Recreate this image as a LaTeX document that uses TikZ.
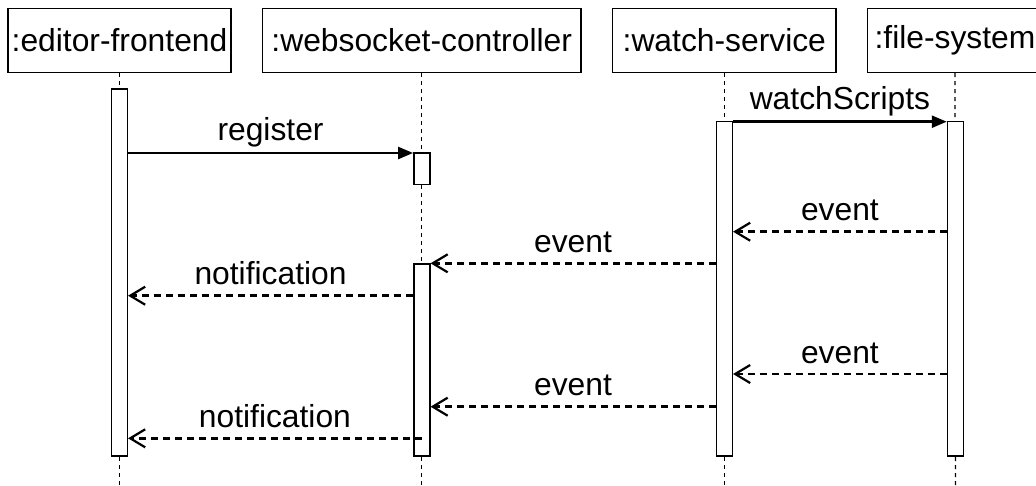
\documentclass[tikz,border=0pt]{standalone}
\usepackage{fontspec}
\setmainfont{Liberation Sans}
\usetikzlibrary{arrows.meta}
\begin{document}
\begin{tikzpicture}[x=1pt,y=-1pt,
  head/.style={draw, line width=1.5pt, minimum height=64pt, inner sep=0pt, font=\fontsize{31.8}{36}\selectfont},
  act/.style={draw, line width=1.5pt, fill=white, minimum width=16pt, inner sep=0pt, anchor=north},
  life/.style={line width=1.3pt, dash pattern=on 4pt off 4pt},
  call/.style={line width=2.5pt, -{Triangle[length=15pt,width=12pt]}},
  ret/.style={line width=2.5pt, dash pattern=on 7pt off 5pt, -{Straight Barb[length=15pt,width=18pt,line width=2.2pt]}},
  lbl/.style={font=\fontsize{31.8}{36}\selectfont, anchor=base, inner sep=0pt}
]
\useasboundingbox (0,0) rectangle (1036,485);
\clip (0,0) rectangle (1036,485);
% heads
\node[head, minimum width=223pt] (ef) at (119.5,40.3) {:editor-frontend};
\node[head, minimum width=318.7pt] (wc) at (421.7,40.3) {:websocket-controller};
\node[head, minimum width=223.3pt] (ws) at (724.3,40.3) {:watch-service};
\node[head, minimum width=174.6pt] (fs) at (955,40.3) {:file-system};
% lifeline ends
\coordinate (efe) at (119.5,485);
\coordinate (wce) at (421.7,485);
\coordinate (wse) at (724.3,485);
\coordinate (fse) at (955.5,485);
\draw[life] (ef.south) -- (efe);
\draw[life] (wc.south) -- (wce);
\draw[life] (ws.south) -- (wse);
\draw[life] (fs.south) -- (fse);
% activations
\node[act, minimum height=367pt] (efa) at (119.3,88.3) {};
\node[act, minimum height=31.7pt] (wca1) at (421.8,152) {};
\node[act, minimum height=192pt] (wca2) at (421.8,263.3) {};
\node[act, minimum height=334.6pt] (wsa) at (724.3,120.7) {};
\node[act, minimum height=334.6pt] (fsa) at (955.5,120.7) {};
% messages
\draw[call] (efa.east |- 0,153) -- (wca1.west |- 0,153)
  node[lbl, midway, yshift=13pt] {register};
\draw[call] (wsa.east |- 0,121.7) -- (fsa.west |- 0,121.7)
  node[lbl, midway, yshift=12pt] {watchScripts};
\draw[ret] (fsa.west |- 0,231.7) -- (wsa.east |- 0,231.7)
  node[lbl, midway, yshift=11pt] {event};
\draw[ret] (wsa.west |- 0,263.3) -- (wca2.east |- 0,263.3)
  node[lbl, midway, yshift=11pt] {event};
\draw[ret] (wca2.west |- 0,295.7) -- (efa.east |- 0,295.7)
  node[lbl, midway, yshift=11pt] {notification};
\draw[ret] (fsa.west |- 0,374) -- (wsa.east |- 0,374)
  node[lbl, midway, yshift=11pt] {event};
\draw[ret] (wsa.west |- 0,406.7) -- (wca2.east |- 0,406.7)
  node[lbl, midway, yshift=11pt] {event};
\draw[ret] (wca2.center |- 0,438.3) -- (efa.east |- 0,438.3)
  node[lbl, midway, yshift=11pt] {notification};
\end{tikzpicture}
\end{document}
